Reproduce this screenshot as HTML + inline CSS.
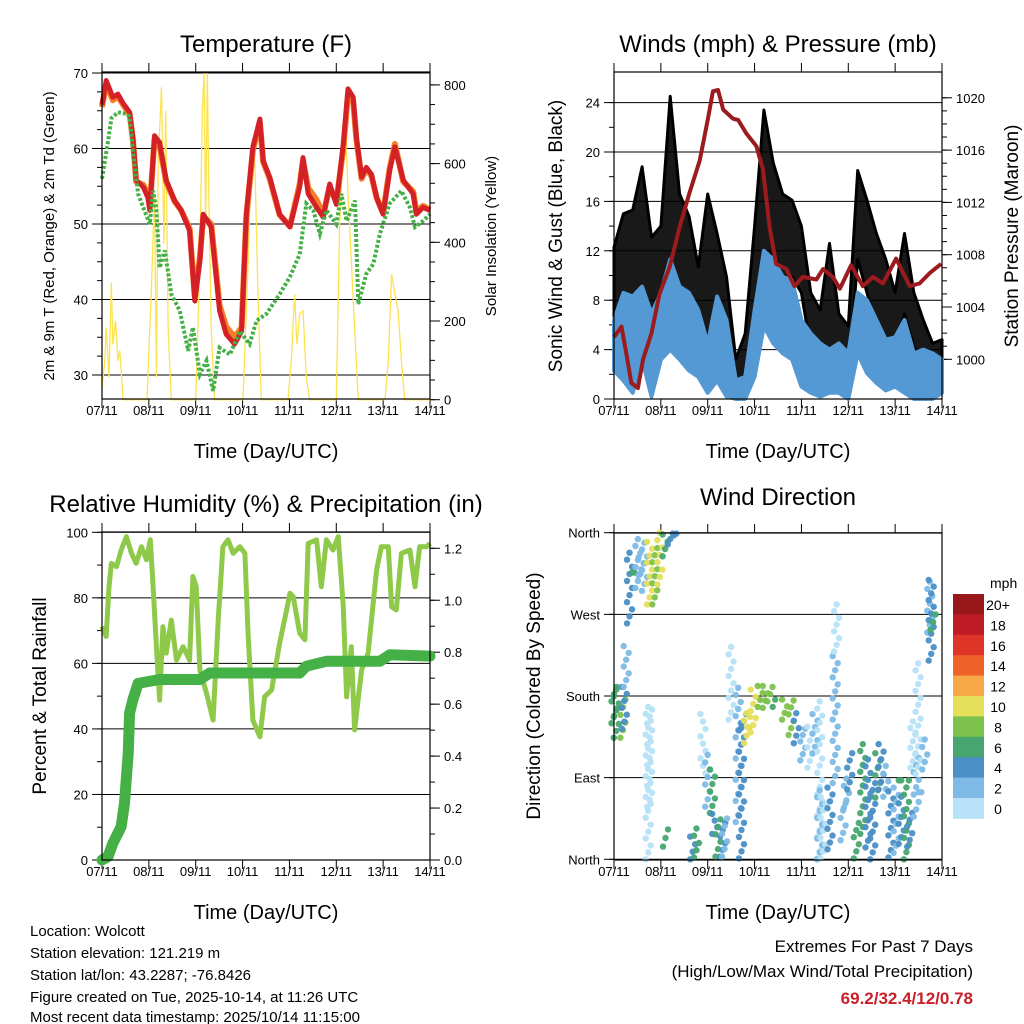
<!DOCTYPE html>
<html><head><meta charset="utf-8"><style>
html,body{margin:0;padding:0;background:#fff;}
svg{display:block;font-family:"Liberation Sans",Arial,sans-serif;}
</style></head><body>
<svg id="c" width="1024" height="1024" viewBox="0 0 1024 1024" xmlns="http://www.w3.org/2000/svg">
<rect width="1024" height="1024" fill="#fff"/>
<text x="266" y="52" font-size="24" text-anchor="middle">Temperature (F)</text>
<text x="778" y="52" font-size="24" text-anchor="middle">Winds (mph) &amp; Pressure (mb)</text>
<text x="266" y="512" font-size="24" text-anchor="middle">Relative Humidity (%) &amp; Precipitation (in)</text>
<text x="778" y="505" font-size="24" text-anchor="middle">Wind Direction</text>
<text x="266" y="458" font-size="20" text-anchor="middle">Time (Day/UTC)</text>
<text x="778" y="458" font-size="20" text-anchor="middle">Time (Day/UTC)</text>
<text x="266" y="919" font-size="20" text-anchor="middle">Time (Day/UTC)</text>
<text x="778" y="919" font-size="20" text-anchor="middle">Time (Day/UTC)</text>
<text transform="translate(54,236) rotate(-90)" font-size="15" text-anchor="middle">2m &amp; 9m T (Red, Orange) &amp; 2m Td (Green)</text>
<text transform="translate(496,236) rotate(-90)" font-size="15" text-anchor="middle">Solar Insolation (Yellow)</text>
<text transform="translate(562,236) rotate(-90)" font-size="19" text-anchor="middle">Sonic Wind &amp; Gust (Blue, Black)</text>
<text transform="translate(1018,236) rotate(-90)" font-size="19" text-anchor="middle">Station Pressure (Maroon)</text>
<text transform="translate(46,696) rotate(-90)" font-size="19" text-anchor="middle">Percent &amp; Total Rainfall</text>
<text transform="translate(540,696) rotate(-90)" font-size="19" text-anchor="middle">Direction (Colored By Speed)</text>
<g font-size="15">
<text x="30" y="936">Location: Wolcott</text>
<text x="30" y="958">Station elevation: 121.219 m</text>
<text x="30" y="980">Station lat/lon: 43.2287; -76.8426</text>
<text x="30" y="1002">Figure created on Tue, 2025-10-14, at 11:26 UTC</text>
<text x="30" y="1024" dy="-2">Most recent data timestamp: 2025/10/14 11:15:00</text>
</g>
<text x="973" y="952" font-size="17" text-anchor="end">Extremes For Past 7 Days</text>
<text x="973" y="977" font-size="17" text-anchor="end">(High/Low/Max Wind/Total Precipitation)</text>
<text x="973" y="1004" font-size="17" font-weight="bold" fill="#c8202a" text-anchor="end">69.2/32.4/12/0.78</text>
<text x="990" y="588" font-size="14">mph</text>
</svg>
<script>
// ---------- data ----------
const dayLabels = ["07/11","08/11","09/11","10/11","11/11","12/11","13/11","14/11"];
const tempT = [0,.09,.23,.34,.45,.59,.66,.73,.88,.98,1.02,1.12,1.23,1.37,1.55,1.69,1.87,1.98,2.09,2.16,2.33,2.51,2.65,2.83,2.98,3.08,3.22,3.37,3.44,3.58,3.79,4.01,4.22,4.29,4.40,4.58,4.72,4.86,5.00,5.15,5.25,5.36,5.43,5.54,5.64,5.75,5.86,6.00,6.14,6.25,6.43,6.64,6.71,6.85,7];
const temp2m = [65.8,69,66.8,67.2,66,64.8,61.5,55.8,54.9,53.5,51.8,61.7,60.8,55.8,53.1,51.8,49.1,39.8,45.1,51.3,49.6,38.5,35.4,34.1,35.8,51.3,60.2,63.9,58.4,56.2,51.3,49.6,54.9,58.8,54,52.2,50.9,55.3,52.6,60.6,67.9,66.8,61.5,56.2,57.5,56.6,53.5,51.3,57.1,60.2,55.8,54,51.3,52.2,51.8];
const temp9m = [65.5,68.6,66.4,66.9,65.8,64.6,61.2,55.6,55.2,54,52.2,61.2,60.4,55.6,53,51.8,49.4,40.4,45.6,51,50,39.2,36.4,35,36.3,50.9,59.8,63.4,58.2,56,51.2,49.7,55.3,58.4,54.8,53.2,51.2,55,52.9,60,67.2,66.2,61.2,56,57.3,56.4,53.5,51.4,57.4,60.6,55.6,54.3,51.6,52.4,51.9];
const dewT = [0,.13,.2,.34,.52,.59,.66,.77,.88,1.02,1.09,1.16,1.23,1.34,1.48,1.66,1.84,1.94,2.09,2.23,2.37,2.51,2.73,2.94,3.15,3.30,3.51,3.79,4.01,4.22,4.36,4.51,4.65,4.79,5.00,5.11,5.22,5.40,5.47,5.64,5.79,5.93,6.14,6.39,6.57,6.68,6.85,7];
const dewV = [56,61,64,64.8,64.6,64.2,59.7,54,52.2,50,54.4,51.8,44.2,46.5,40.7,38.5,33.2,36.3,30.1,31.9,27.9,33.6,32.7,35.8,34.1,37.2,38.1,40.7,43,46,52.7,51.8,48.7,51.8,50,54,50.4,53.1,39.4,43.4,44.7,48.7,52.7,54.4,52.2,49.6,50.4,51.3];
const solarT = [0,.06,.09,.15,.2,.23,.29,.34,.38,.45, .96,1.05,1.12,1.16,1.2,1.27,1.32,1.36,1.41,1.48, 2.0,2.09,2.14,2.18,2.21,2.25,2.28,2.33,2.4, 3.01,3.12,3.19,3.26,3.33,3.4, 3.97,4.04,4.11,4.16,4.22,4.29,4.36,4.43, 5.0,5.07,5.15,5.2,5.25,5.32,5.39,5.47, 6.04,6.11,6.18,6.25,6.32,6.39,6.46,7];
const solarV = [31,99,184,57,298,141,200,99,125,0, 0,268,523,57,607,794,396,734,184,0, 0,353,734,830,438,830,523,184,0, 0,353,654,607,268,0, 0,99,268,141,218,226,57,0, 0,438,650,692,523,353,184,0, 0,99,319,268,226,99,0,0];
const presT = [0,.16,.26,.37,.51,.62,.80,.97,1.19,1.40,1.61,1.83,2.01,2.11,2.22,2.33,2.54,2.65,2.82,3.04,3.18,3.32,3.46,3.68,3.85,4.03,4.32,4.46,4.67,4.82,5.06,5.31,5.53,5.74,6.02,6.31,6.52,6.74,6.98];
const presV = [1001.7,1002.5,1000.5,998.2,997.8,1000,1002,1005,1007.1,1010.1,1012.7,1015.2,1018.5,1020.5,1020.6,1019.1,1018.4,1018.3,1017.3,1016.3,1014.5,1010.1,1007.3,1006.9,1005.6,1006.3,1006.1,1006.9,1006.3,1005.4,1007.2,1005.6,1006.3,1005.8,1007.7,1005.6,1005.8,1006.6,1007.3];
const windT = [0,.2,.4,.6,.8,1,1.2,1.4,1.6,1.8,2,2.2,2.4,2.6,2.8,3,3.2,3.4,3.6,3.8,4,4.2,4.4,4.6,4.8,5,5.2,5.4,5.6,5.8,6,6.2,6.4,6.6,6.8,7];
const windHi = [6.4,8.6,8.3,9.1,6.9,8.6,11.3,9.1,8.6,7.2,4.5,8.3,6.4,1.5,1.8,7.2,12,11.3,9.9,9.6,6.4,5.3,4.5,4,4.5,3.7,8.6,8,6.4,4.8,5,6.4,3.7,4,3.7,3.2];
const windLo = [2.3,1.5,0.5,3.2,0.2,3.2,4,3.2,2.3,1.8,0.5,1.5,0.2,0,0,1.8,5.9,4.5,3.7,3.2,1,0.5,0.2,0.5,0.5,0,3.7,2.1,1.3,0.7,1,0.5,0,0,0,0.5];
const gustHi = [12.3,15,15.3,18.8,13.1,14,24.5,16.6,14.8,10.7,16.6,13.4,9.9,3.2,5.3,14,23.4,19.1,16.6,16.1,14,8.6,7.2,12.6,6.9,5.9,18.5,16.1,13.4,11.3,8.6,13.4,8.6,6.4,4.5,4.8];
const gustLo = [6.4,8,4,4.2,3.2,7.5,8.6,6.9,7.2,4.5,5.3,7.2,3.7,1.3,1.8,7.2,11.3,11.8,9.9,9.9,8.6,4,3.2,3.7,2.3,1.8,11.3,8.6,5.9,4.5,3.7,6.9,4.2,3.2,2.3,2.6];
const rhT = [0,.09,.15,.2,.31,.41,.52,.63,.73,.84,.95,1.03,1.09,1.16,1.23,1.3,1.37,1.48,1.59,1.73,1.87,1.94,2.01,2.09,2.23,2.37,2.48,2.58,2.69,2.8,2.94,3.05,3.12,3.22,3.37,3.47,3.62,3.79,3.94,4.01,4.08,4.22,4.33,4.4,4.58,4.68,4.79,4.93,5.04,5.15,5.22,5.32,5.39,5.54,5.68,5.86,5.96,6.11,6.18,6.28,6.39,6.57,6.68,6.78,6.93,7];
const rhV = [71.2,68.2,83.4,90.5,89.5,94.6,98.7,93.6,90.5,95.6,91.6,97.7,83.4,65.1,48.8,71.2,63.1,73.2,61,65.1,61,86.5,83.4,58,50.9,42.7,73.2,95.6,97.7,93.6,95.6,93.6,68.2,42.7,37.6,49.8,51.9,66.1,76.3,81.4,80.4,69.2,67.2,96.6,97.7,83.4,97.7,94.6,98.7,77.3,49.8,65.1,39.7,58,63.1,88.5,95.6,95.6,77.3,76.3,93.6,94.6,83.4,95.6,95.6,96.6];
const rainT = [0,.13,.23,.41,.48,.56,.59,.66,.77,1.23,2.09,2.3,4.22,4.36,4.79,5.93,6.14,7];
const rainV = [0,.013,.064,.129,.219,.41,.566,.617,.68,.695,.695,.72,.72,.746,.765,.765,.79,.785];
// wind-direction streaks: time (days), direction range (deg), speed (mph)
const dirT = [0,.05,.19,.22,.26,.33,.44,.51,.58,.65,.76,.87,.98,1.09,1.2,1.33,.76,1.1,.73,1.68,1.76,1.9,2.0,2.1,2.15,2.22,2.32,2.36,2.5,2.65,2.72,2.77,2.83,2.9,2.97,3.12,3.23,3.33,3.44,3.64,3.78,3.89,4.03,4.18,4.29,4.39,4.39,4.46,4.61,4.72,4.75,4.89,4.96,5.03,5.17,5.31,5.42,5.52,5.63,5.70,5.80,5.91,6.02,6.13,6.24,6.13,6.31,6.38,6.45,6.56,6.49,6.63,6.74,6.77,6.81];
const dirLo = [150,134,134,144,190,260,316,299,313,296,281,281,303,334,347,357,58,14,0,0,2,160,58,51,50,3,3,3,154,41,1,145,128,146,140,168,167,174,168,154,137,128,109,101,117,1,0,1,11,84,229,21,57,77,1,28,13,0,68,77,69,2,7,17,0,87,14,101,47,74,94,99,250,219,253];
const dirHi = [190,187,176,190,235,338,316,353,333,349,350,343,360,358,359,359,165,33,168,25,34,95,115,99,28,44,40,45,234,189,150,160,161,157,187,191,191,190,176,176,175,161,144,146,160,174,76,69,79,224,281,62,89,117,40,127,110,84,117,127,103,75,79,69,87,87,51,152,112,74,216,132,306,308,270];
const dirS = [6,6,8,4,2,4,6,2,2,2,10,8,10,6,4,4,0,6,0,4,6,0,2,6,4,6,4,2,0,2,4,4,10,10,10,8,8,8,6,8,8,4,2,0,2,0,2,0,4,2,0,2,2,4,6,6,4,4,6,4,2,4,2,4,6,6,4,0,2,2,0,2,2,4,6];
const cbLabels = ["20+","18","16","14","12","10","8","6","4","2","0"];
const cbColors = ["#97171a","#bd1c24","#df3529","#ef6228","#f6a747","#e5df5a","#7dc24c","#47a670","#4a8fc6","#7ebae5","#b7e2f7"];

// ---------- helpers ----------
const NS = "http://www.w3.org/2000/svg";
const svg = document.getElementById("c");
function mk(tag, attrs, parent) {
  const e = document.createElementNS(NS, tag);
  for (const k in attrs) e.setAttribute(k, attrs[k]);
  (parent || svg).appendChild(e);
  return e;
}
function lin(d0, d1, r0, r1) { return v => r0 + (v - d0) * (r1 - r0) / (d1 - d0); }
function pts(xs, ys, xf, yf) { return xs.map((t, i) => xf(t).toFixed(1) + "," + yf(ys[i]).toFixed(1)).join(" "); }

const panels = {
  temp: {x0: 102, x1: 430, y0: 72, y1: 399},
  wind: {x0: 614, x1: 942, y0: 72, y1: 399},
  rh: {x0: 102, x1: 430, y0: 532, y1: 860},
  dir: {x0: 614, x1: 942, y0: 533, y1: 860}
};

function xAxis(p, labelY) {
  const xs = lin(0, 7, p.x0, p.x1);
  for (let i = 0; i < dayLabels.length; i++) {
    const x = xs(i);
    const tb = mk("line", {x1: x, x2: x, y1: p.y1, y2: p.y1 + 9, stroke: "#000", "stroke-width": 1});
    
    
    const tt = mk("line", {x1: x, x2: x, y1: p.y0 - 9, y2: p.y0, stroke: "#000", "stroke-width": 1});
    
    
    const lb = mk("text", {x: x, y: labelY, "font-size": 13, "text-anchor": "middle"});
    lb.textContent = dayLabels[i];
    
    
  }
  return xs;
}
function yAxis(p, ys, majors, minorStep, labels, side, fmt, grid) {
  const lo = Math.min(majors[0], majors[majors.length - 1]);
  const hi = Math.max(majors[0], majors[majors.length - 1]);
  const xEdge = side === "left" ? p.x0 : p.x1;
  const dir = side === "left" ? -1 : 1;
  for (let v = lo; v <= hi + 1e-9; v += minorStep) {
    const y = ys(v);
    if (y < p.y0 - 1 || y > p.y1 + 1) continue;
    const m = mk("line", {x1: xEdge, x2: xEdge + dir * 5, y1: y, y2: y, stroke: "#000", "stroke-width": 1});
    
    
  }
  majors.forEach((v, i) => {
    const y = ys(v);
    const t = mk("line", {x1: xEdge, x2: xEdge + dir * 10, y1: y, y2: y, stroke: "#000", "stroke-width": 1});
    
    
    if (grid) {
      const g = mk("line", {x1: p.x0, x2: p.x1, y1: y, y2: y, stroke: "#000", "stroke-width": 1});
      
      
    }
    const lb = mk("text", {x: xEdge + dir * 14, y: y + 5, "font-size": 13, "text-anchor": side === "left" ? "end" : "start"});
    lb.textContent = labels ? labels[i] : fmt(v);
    
    
  });
}
function frame(p, name) {
  const r = mk("rect", {x: p.x0, y: p.y0, width: p.x1 - p.x0, height: p.y1 - p.y0, fill: "none", stroke: "#000", "stroke-width": 1.2});
  
  
}

// ---------- Temperature panel ----------
{
  const p = panels.temp;
  const xs = xAxis(p, 415);
  const yT = lin(70, 30, 73, 375);
  const yS = lin(0, 800, 399.7, 84.9);
  yAxis(p, yT, [30,40,50,60,70], 2.5, null, "left", v => v, true);
  yAxis(p, yS, [0,200,400,600,800], 50, null, "right", v => v, false);
  const sol = mk("polyline", {points: pts(solarT, solarV, xs, yS), fill: "none", stroke: "#fde24f", "stroke-width": 1.3});
  
  
  const t9 = mk("polyline", {points: pts(tempT, temp9m, xs, yT), fill: "none", stroke: "#f47f26", "stroke-width": 6, "stroke-linejoin": "round"});
  
  
  const t2 = mk("polyline", {points: pts(tempT, temp2m, xs, yT), fill: "none", stroke: "#d42027", "stroke-width": 5, "stroke-linejoin": "round"});
  
  
  const dw = mk("polyline", {points: pts(dewT, dewV, xs, yT), fill: "none", stroke: "#45b046", "stroke-width": 4, "stroke-dasharray": "3 2"});
  
  
  frame(p, "temperature-plot-frame");
}

// ---------- Wind panel ----------
{
  const p = panels.wind;
  const xs = xAxis(p, 415);
  const yW = lin(0, 24, 399, 102.6);
  const yP = lin(1000, 1020, 359.3, 97.8);
  yAxis(p, yW, [0,4,8,12,16,20,24], 2, null, "left", v => v, true);
  yAxis(p, yP, [1000,1004,1008,1012,1016,1020], 1, null, "right", v => v, false);
  const gp = pts(windT, gustHi, xs, yW) + " " + pts(windT.slice().reverse(), gustLo.slice().reverse(), xs, yW);
  const g = mk("polygon", {points: gp, fill: "#000", "fill-opacity": 0.9, stroke: "#000", "stroke-width": 3, "stroke-linejoin": "round"});
  
  
  const wp = pts(windT, windHi, xs, yW) + " " + pts(windT.slice().reverse(), windLo.slice().reverse(), xs, yW);
  const w = mk("polygon", {points: wp, fill: "#5499d3", stroke: "#5499d3", "stroke-width": 4, "stroke-linejoin": "round"});
  
  
  const pr = mk("polyline", {points: pts(presT, presV, xs, yP), fill: "none", stroke: "#9b1b1e", "stroke-width": 4, "stroke-linejoin": "round"});
  
  
  frame(p, "wind-plot-frame");
}

// ---------- RH panel ----------
{
  const p = panels.rh;
  const xs = xAxis(p, 876);
  const yR = lin(0, 100, 860, 532.3);
  const yI = lin(0, 1.2, 860, 548.3);
  yAxis(p, yR, [0,20,40,60,80,100], 10, null, "left", v => v, true);
  yAxis(p, yI, [0,.2,.4,.6,.8,1.0,1.2], .1, null, "right", v => v.toFixed(1), false);
  const rh = mk("polyline", {points: pts(rhT, rhV, xs, yR), fill: "none", stroke: "#8fc94a", "stroke-width": 5, "stroke-linejoin": "round"});
  
  
  const rn = mk("polyline", {points: pts(rainT, rainV, xs, yI), fill: "none", stroke: "#45b046", "stroke-width": 11, "stroke-linejoin": "round", "stroke-linecap": "round"});
  
  
  frame(p, "humidity-plot-frame");
}

// ---------- Wind direction panel ----------
{
  const p = panels.dir;
  const xs = xAxis(p, 876);
  const yD = lin(0, 360, 859.3, 532.7);
  yAxis(p, yD, [0,90,180,270,360], 90, ["North","East","South","West","North"], "left", v => v, true);
  for (let i = 0; i < dirT.length; i++) {
    const x = xs(dirT[i]);
    const y0 = yD(dirLo[i]), y1 = yD(dirHi[i]);
    const n = Math.max(1, Math.round(Math.abs(y0 - y1) / 7));
    const ci = Math.max(0, Math.min(10, 10 - Math.floor(dirS[i] / 2)));
    for (let k = 0; k <= n; k++) {
      const d = mk("circle", {cx: (x + (k % 3 - 1) * 2.5).toFixed(1), cy: (y0 + (y1 - y0) * k / n).toFixed(1), r: 3.2, fill: cbColors[ci], opacity: 0.95});
      
      
    }
  }
  frame(p, "direction-plot-frame");
  const cbY0 = 594, cbH = 20.4;
  cbLabels.forEach((lab, i) => {
    const r = mk("rect", {x: 953, y: cbY0 + i * cbH, width: 31, height: cbH + 0.5, fill: cbColors[i]});
    
    
    const t = mk("text", {x: 998, y: cbY0 + i * cbH + 16, "font-size": 14, "text-anchor": "middle"});
    t.textContent = lab;
    
    
  });
}
</script>
</body></html>
